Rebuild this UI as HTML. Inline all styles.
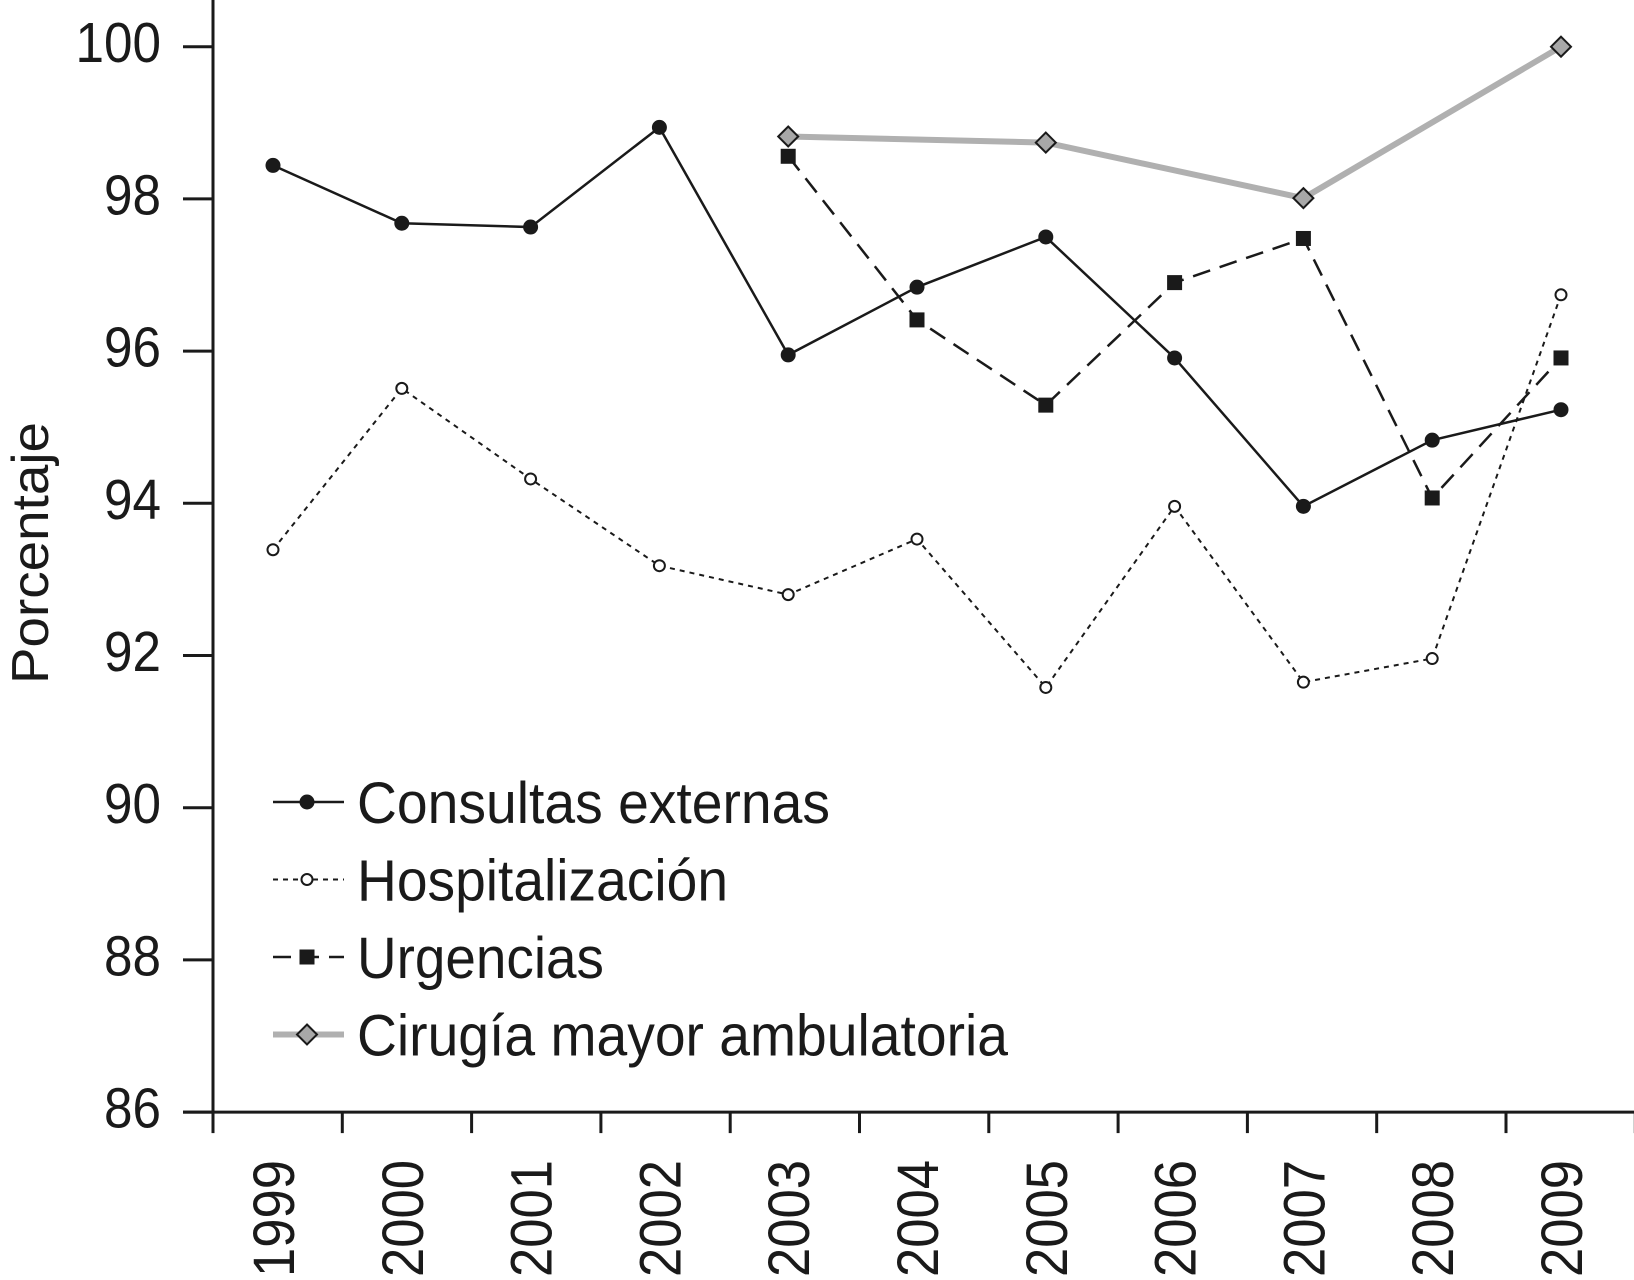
<!DOCTYPE html>
<html><head><meta charset="utf-8"><style>
html,body{margin:0;padding:0;background:#fff;}
svg{display:block;font-family:"Liberation Sans",sans-serif;}
</style></head><body>
<svg id="chart" width="1634" height="1280" viewBox="0 0 1634 1280" xmlns="http://www.w3.org/2000/svg">
<g id="axes"></g>
<g id="series"></g>
<g id="legend"></g>
<text x="0" y="0" font-size="52" fill="#1a1a1a" text-anchor="middle" textLength="262" lengthAdjust="spacingAndGlyphs" transform="translate(48,553) rotate(-90)">Porcentaje</text>
</svg>
<script>
const years = ['1999','2000','2001','2002','2003','2004','2005','2006','2007','2008','2009'];
const yTicks = [86,88,90,92,94,96,98,100];
const consultas = [98.44,97.68,97.63,98.94,95.95,96.84,97.50,95.91,93.96,94.83,95.23];
const hospitalizacion = [93.39,95.51,94.32,93.18,92.80,93.53,91.58,93.96,91.65,91.96,96.74];
const urgencias = [null,null,null,null,98.56,96.41,95.29,96.90,97.48,94.07,95.91];
const cirugia = [null,null,null,null,98.82,null,98.74,null,98.01,null,100];
const legendLabels = ['Consultas externas','Hospitalización','Urgencias','Cirugía mayor ambulatoria'];

const NS='http://www.w3.org/2000/svg';
function x(i){return 273+128.8*i;}
function y(v){return 46.7+(100-v)*76.1;}
function mk(tag,attrs,parent){const e=document.createElementNS(NS,tag);for(const k in attrs)e.setAttribute(k,attrs[k]);parent.appendChild(e);return e;}
const axes=document.getElementById('axes'),series=document.getElementById('series'),legend=document.getElementById('legend');
const ink='#1a1a1a';

let e=mk('line',{x1:213,y1:0,x2:213,y2:y(86),stroke:ink,'stroke-width':3},axes);


e=mk('line',{x1:183,y1:y(86),x2:1634,y2:y(86),stroke:ink,'stroke-width':3},axes);


yTicks.forEach(v=>{
  const t=mk('line',{x1:183,y1:y(v),x2:213,y2:y(v),stroke:ink,'stroke-width':3},axes);
  
  
  const s=String(v);
  const l=mk('text',{x:161,y:y(v)+15.5,'font-size':57,'text-anchor':'end',fill:ink,textLength:s.length*28.5,lengthAdjust:'spacingAndGlyphs'},axes);
  l.textContent=s;
  
  
});
for(let k=0;k<=years.length;k++){
  const tx=213+129.3*k;
  const t=mk('line',{x1:tx,y1:y(86),x2:tx,y2:y(86)+21,stroke:ink,'stroke-width':3},axes);
  
  
}
years.forEach((yr,i)=>{
  const cx=x(i);
  const l=mk('text',{x:0,y:0,'font-size':58,'text-anchor':'end',fill:ink,textLength:117,lengthAdjust:'spacingAndGlyphs',transform:`translate(${cx+21},1160) rotate(-90)`},axes);
  l.textContent=yr;
  
  
});

function pathOf(arr){let d='';arr.forEach((v,i)=>{if(v==null)return;d+=(d?'L':'M')+x(i)+','+y(v);});return d;}
function marker(type,cx,cy,parent){
  let m;
  if(type==='dot') m=mk('circle',{cx:cx,cy:cy,r:7.5,fill:ink},parent);
  else if(type==='open') m=mk('circle',{cx:cx,cy:cy,r:5.5,fill:'#fff',stroke:ink,'stroke-width':2},parent);
  else if(type==='square') m=mk('rect',{x:cx-7.5,y:cy-7.5,width:15,height:15,fill:ink},parent);
  else m=mk('polygon',{points:`${cx},${cy-10} ${cx+10},${cy} ${cx},${cy+10} ${cx-10},${cy}`,fill:'#a8a8a8',stroke:ink,'stroke-width':2},parent);
  return m;
}
const defs=[
  {data:consultas,name:'consultas',stroke:ink,w:2.5,dash:'',m:'dot'},
  {data:hospitalizacion,name:'hospitalizacion',stroke:ink,w:2,dash:'5,5',m:'open'},
  {data:urgencias,name:'urgencias',stroke:ink,w:2.5,dash:'18,10',m:'square'},
  {data:cirugia,name:'cirugia',stroke:'#b0b0b0',w:6,dash:'',m:'diamond'}
];
defs.forEach(s=>{
  const g=mk('g',{},series);
  
  
  const p=mk('path',{d:pathOf(s.data),fill:'none',stroke:s.stroke,'stroke-width':s.w,'stroke-dasharray':s.dash},g);
  
  
  s.data.forEach((v,i)=>{if(v==null)return;
    const m=marker(s.m,x(i),y(v),g);
    
    
  });
});
defs.forEach((s,k)=>{
  const cy=802+77.5*k;
  const g=mk('g',{},legend);
  
  
  const l=mk('line',{x1:273,y1:cy,x2:344,y2:cy,stroke:s.stroke,'stroke-width':s.w,'stroke-dasharray':s.dash},g);
  
  
  const m=marker(s.m,307,cy,g);
  
  
  const t=mk('text',{x:357,y:cy+21,'font-size':58,fill:ink},g);
  t.textContent=legendLabels[k];
  
  
});
const lens=[473,371,247,651];
legend.querySelectorAll('text').forEach((t,k)=>{t.setAttribute('textLength',lens[k]);t.setAttribute('lengthAdjust','spacingAndGlyphs');});
</script>
</body></html>
